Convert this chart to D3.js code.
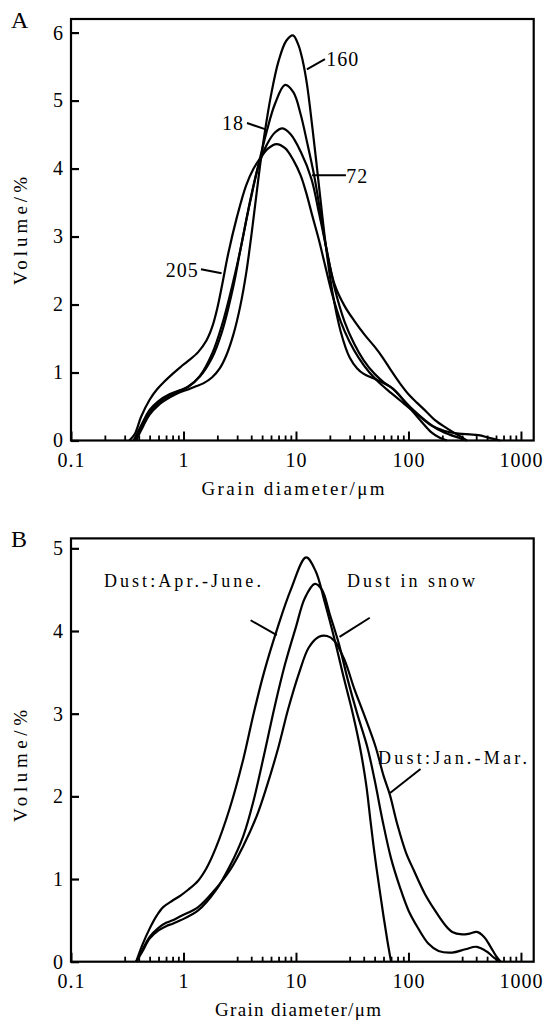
<!DOCTYPE html>
<html>
<head>
<meta charset="utf-8">
<script src="https://cdn.jsdelivr.net/npm/d3@7"></script>
<style>
  html, body { margin: 0; padding: 0; background: #fff; }
  svg { display: block; }
</style>
</head>
<body>
<div id="chart"></div>
<script>
// Axis ticks
const xTickValues = [0.1, 1, 10, 100, 1000];
const xTickLabels = ['0.1', '1', '10', '100', '1000'];
const yTicksA = [0, 1, 2, 3, 4, 5, 6];
const yTicksB = [0, 1, 2, 3, 4, 5];

// Panel A series: [grain diameter µm, volume %]
const sample160 = [[0.38,0],[0.42,0.15],[0.5,0.38],[0.6,0.52],[0.75,0.63],[0.9,0.7],[1.1,0.75],[1.26,0.79],[1.5,0.84],[1.8,0.93],[2.1,1.06],[2.4,1.25],[2.8,1.58],[3.2,1.98],[3.6,2.45],[4.0,3.0],[4.4,3.55],[4.8,4.05],[5.3,4.55],[6,5.08],[7,5.58],[8.2,5.88],[9.4,5.96],[10.5,5.82],[11.5,5.58],[12.5,5.25],[14,4.6],[16,3.75],[18,3.0],[21,2.2],[25,1.6],[30,1.22],[35,1.06],[40,0.98],[51,0.9],[73,0.76],[100,0.5],[130,0.28],[160,0.12],[190,0.04],[220,0]];
const sample18 = [[0.37,0],[0.42,0.2],[0.5,0.42],[0.6,0.55],[0.75,0.66],[0.9,0.72],[1.1,0.79],[1.4,0.94],[1.8,1.22],[2.2,1.6],[2.76,2.25],[3.2,2.8],[4,3.6],[4.7,4.1],[5.5,4.55],[6.5,4.95],[8,5.23],[9.5,5.12],[11,4.8],[12.5,4.4],[14.5,3.9],[16.5,3.35],[18.5,2.85],[22,2.3],[27,1.98],[33,1.76],[41,1.55],[50,1.38],[59,1.22],[70,1.03],[84,0.84],[100,0.68],[120,0.55],[145,0.42],[172,0.3],[210,0.2],[245,0.13],[290,0.06],[330,0]];
const sample72 = [[0.36,0],[0.42,0.22],[0.5,0.45],[0.6,0.58],[0.75,0.68],[0.9,0.73],[1.1,0.79],[1.4,0.95],[1.8,1.28],[2.2,1.7],[2.76,2.33],[3.2,2.8],[3.9,3.5],[4.7,4.07],[5.5,4.35],[6.5,4.53],[7.6,4.59],[9,4.5],[11,4.25],[13.7,3.85],[16,3.35],[18.5,2.85],[22,2.25],[27,1.75],[33,1.42],[40,1.18],[50,0.98],[60,0.86],[73,0.76],[90,0.6],[110,0.45],[140,0.3],[180,0.17],[230,0.09],[280,0.04],[330,0]];
const sample205 = [[0.33,0],[0.37,0.1],[0.42,0.35],[0.5,0.6],[0.58,0.75],[0.66,0.85],[0.8,0.98],[0.94,1.08],[1.1,1.17],[1.35,1.3],[1.6,1.47],[1.8,1.67],[2.0,1.95],[2.2,2.28],[2.5,2.75],[3.0,3.3],[3.6,3.75],[4.2,4.0],[4.8,4.15],[5.7,4.3],[6.7,4.36],[8,4.3],[9.5,4.12],[11,3.9],[12.3,3.65],[14,3.3],[16,2.95],[18,2.6],[21,2.15],[25,1.75],[30,1.45],[36,1.22],[45,1.0],[55,0.85],[70,0.7],[90,0.55],[120,0.38],[160,0.22],[210,0.14],[280,0.1],[350,0.09],[420,0.08],[520,0.04],[650,0]];

// Panel B series: [grain diameter µm, volume %]
const dustAprJune = [[0.38,0],[0.43,0.2],[0.5,0.4],[0.58,0.56],[0.66,0.66],[0.8,0.74],[0.94,0.8],[1.1,0.87],[1.35,0.98],[1.6,1.13],[1.93,1.37],[2.57,1.85],[3.4,2.45],[4.2,3.0],[5.2,3.5],[6.9,4.05],[9,4.5],[12.3,4.89],[15,4.72],[18,4.35],[22,3.9],[27,3.4],[32,3.0],[37,2.6],[42,2.15],[46,1.7],[50,1.3],[55,0.9],[60,0.55],[65,0.25],[70,0]];
const dustInSnow = [[0.38,0],[0.43,0.12],[0.5,0.28],[0.6,0.38],[0.7,0.43],[0.8,0.46],[0.94,0.5],[1.35,0.62],[1.93,0.86],[2.57,1.15],[3.4,1.52],[4.2,1.95],[5.2,2.5],[6.5,3.1],[8,3.6],[10,4.05],[12,4.4],[14.7,4.57],[17,4.5],[20,4.2],[24,3.85],[29,3.4],[35,3.0],[43,2.6],[50,2.2],[59,1.7],[70,1.25],[84,0.9],[100,0.62],[120,0.42],[150,0.22],[185,0.13],[245,0.11],[320,0.15],[405,0.18],[500,0.12],[575,0.05],[650,0]];
const dustJanMar = [[0.38,0],[0.43,0.14],[0.5,0.3],[0.6,0.41],[0.7,0.47],[0.8,0.5],[0.94,0.55],[1.35,0.66],[1.93,0.88],[2.57,1.1],[3.4,1.4],[4.5,1.77],[5.5,2.12],[7,2.6],[8.5,3.05],[10.7,3.5],[13,3.8],[16,3.93],[18.9,3.94],[22,3.88],[27,3.65],[33,3.3],[40,3.0],[51,2.6],[60,2.25],[68,2.03],[80,1.65],[95,1.32],[112,1.1],[140,0.82],[172,0.62],[210,0.45],[245,0.36],[300,0.33],[350,0.34],[405,0.36],[470,0.3],[537,0.18],[600,0.07],[660,0]];

// Curve labels: text anchor and leader ends in data units
const notesA = [
    { text: '160', x: 18.6, y: 5.51, anchor: 'start', from: [18.1, 5.61], to: [12.5, 5.46] },
    { text: '18', x: 3.45, y: 4.57, anchor: 'end', from: [3.67, 4.67], to: [5.3, 4.58] },
    { text: '72', x: 28, y: 3.79, anchor: 'start', from: [13.9, 3.9], to: [27.8, 3.9] },
    { text: '205', x: 1.37, y: 2.40, anchor: 'end', from: [1.43, 2.52], to: [2.18, 2.46] }
];
const notesB = [
    { text: 'Dust:Apr.-June.', x: 0.196, y: 4.53, anchor: 'start', width: 157, from: [3.95, 4.13], to: [6.75, 3.95] },
    { text: 'Dust in snow', x: 28.4, y: 4.53, anchor: 'start', width: 128, from: [45.3, 4.16], to: [24.4, 3.93] },
    { text: 'Dust:Jan.-Mar.', x: 53.6, y: 2.39, anchor: 'start', width: 149, from: [128, 2.33], to: [68.6, 2.04] }
];

const serif = "'Liberation Serif', 'Times New Roman', serif";

const svg = d3.select('#chart')
    .append('svg')
    .attr('width', 546)
    .attr('height', 1023);

const panels = [
    {
        letter: 'A', left: 71, right: 533.7, top: 19, bottom: 440.5,
        xMax: 1298, yMax: 6.2, yTicks: yTicksA, skipTwos: false,
        series: [sample160, sample18, sample72, sample205], notes: notesA, noteSize: 20,
        xTitleX: 293, xTitleW: 183, yTitleY: 231, yTitleW: 108
    },
    {
        letter: 'B', left: 71, right: 533.7, top: 538.4, bottom: 961.7,
        xMax: 1298, yMax: 5.12, yTicks: yTicksB, skipTwos: true,
        series: [dustAprJune, dustInSnow, dustJanMar], notes: notesB, noteSize: 18,
        xTitleX: 298, xTitleW: 166, yTitleY: 766, yTitleW: 112
    }
];

panels.forEach(drawPanel);

function drawPanel(p) {
    const x = d3.scaleLog().domain([0.1, p.xMax]).range([p.left, p.right]);
    const y = d3.scaleLinear().domain([0, p.yMax]).range([p.bottom, p.top]);
    const g = svg.append('g');

    // minor ticks 2..9 per decade (panel B has no 2s)
    const minor = [];
    [0.1, 1, 10, 100].forEach(dec => {
        for (let k = 2; k <= 9; k++) {
            if (p.skipTwos && k === 2) continue;
            minor.push(+(dec * k).toPrecision(3));
        }
    });

    g.append('g')
        .attr('transform', `translate(0,${p.bottom})`)
        .call(d3.axisBottom(x).tickValues(minor).tickSize(-5).tickFormat(''))
        .call(a => a.select('.domain').remove())
        .call(a => a.selectAll('line').attr('stroke-width', 1.8));

    const xAxis = g.append('g')
        .attr('transform', `translate(0,${p.bottom})`)
        .call(d3.axisBottom(x)
            .tickValues(xTickValues)
            .tickSize(-9)
            .tickPadding(12)
            .tickFormat((d, i) => xTickLabels[i]));
    xAxis.select('.domain').remove();
    xAxis.selectAll('line').attr('stroke-width', 2);
    xAxis.selectAll('text')
        .attr('font-family', serif)
        .attr('font-size', 20)
        .attr('letter-spacing', 1)
        .attr('fill', '#000');

    const yAxis = g.append('g')
        .attr('transform', `translate(${p.left},0)`)
        .call(d3.axisLeft(y).tickValues(p.yTicks).tickSize(-8).tickPadding(8).tickFormat(d3.format('d')));
    yAxis.select('.domain').remove();
    yAxis.selectAll('line').attr('stroke-width', 2.2);
    yAxis.selectAll('text')
        .attr('font-family', serif)
        .attr('font-size', 20)
        .attr('fill', '#000');

    // frame
    g.append('rect')
        .attr('x', p.left)
        .attr('y', p.top)
        .attr('width', p.right - p.left)
        .attr('height', p.bottom - p.top)
        .attr('fill', 'none')
        .attr('stroke', '#000')
        .attr('stroke-width', 2.2);

    // curves
    const line = d3.line()
        .x(d => x(d[0]))
        .y(d => y(d[1]))
        .curve(d3.curveCatmullRom.alpha(0.5));

    g.selectAll('.curve')
        .data(p.series)
        .join('path')
        .attr('class', 'curve')
        .attr('d', line)
        .attr('fill', 'none')
        .attr('stroke', '#000')
        .attr('stroke-width', 2.2)
        .attr('stroke-linejoin', 'round');

    // leader lines and labels
    g.selectAll('.leader')
        .data(p.notes)
        .join('line')
        .attr('class', 'leader')
        .attr('x1', d => x(d.from[0]))
        .attr('y1', d => y(d.from[1]))
        .attr('x2', d => x(d.to[0]))
        .attr('y2', d => y(d.to[1]))
        .attr('stroke', '#000')
        .attr('stroke-width', 2);

    const notes = g.selectAll('.note')
        .data(p.notes)
        .join('text')
        .attr('class', 'note')
        .attr('x', d => x(d.x))
        .attr('y', d => y(d.y))
        .attr('text-anchor', d => d.anchor)
        .attr('font-family', serif)
        .attr('font-size', p.noteSize)
        .attr('letter-spacing', p.letter === 'A' ? 1 : 0)
        .text(d => d.text);
    notes.filter(d => d.width)
        .attr('textLength', d => d.width)
        .attr('lengthAdjust', 'spacing');

    // axis titles
    g.append('text')
        .attr('x', p.xTitleX)
        .attr('y', p.bottom + 54)
        .attr('text-anchor', 'middle')
        .attr('font-family', serif)
        .attr('font-size', 19)
        .attr('textLength', p.xTitleW)
        .attr('lengthAdjust', 'spacing')
        .text('Grain diameter/\u03bcm');

    g.append('text')
        .attr('transform', `translate(20,${p.yTitleY}) rotate(-90)`)
        .attr('text-anchor', 'middle')
        .attr('dy', '0.35em')
        .attr('font-family', serif)
        .attr('font-size', 19)
        .attr('textLength', p.yTitleW)
        .attr('lengthAdjust', 'spacing')
        .text('Volume/%');

    // panel letter
    g.append('text')
        .attr('x', 11)
        .attr('y', p.top + 9)
        .attr('font-family', serif)
        .attr('font-size', 24)
        .text(p.letter);
}
</script>
</body>
</html>
